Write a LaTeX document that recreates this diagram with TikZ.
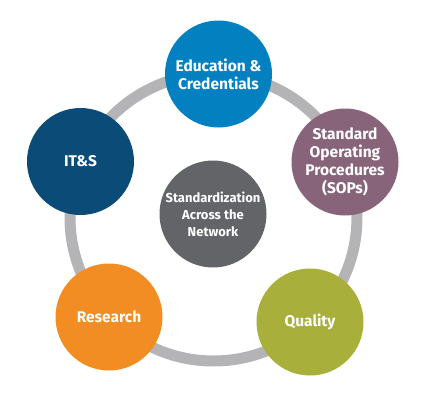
\documentclass[tikz,border=0pt]{standalone}
\usepackage{fontspec}
\setmainfont{Fira Sans}
\usepackage{tikz}

\definecolor{ringgray}{RGB}{180,180,182}
\definecolor{edublue}{RGB}{3,128,192}
\definecolor{itsnavy}{RGB}{11,75,120}
\definecolor{sopmauve}{RGB}{135,100,121}
\definecolor{resorange}{RGB}{241,141,34}
\definecolor{qualolive}{RGB}{168,175,58}
\definecolor{centergray}{RGB}{99,100,104}

\tikzset{
  topic/.style={circle, minimum size=107pt, inner sep=0pt, text=white,
    font=\bfseries\fontsize{15.5}{18}\selectfont, align=center},
  hub/.style={topic, font=\bfseries\fontsize{13}{17}\selectfont}
}

\begin{document}
\begin{tikzpicture}[x=1pt,y=1pt,yscale=-1,xscale=1]
\useasboundingbox (0,0) rectangle (437,415);
% ring behind the circles
\coordinate (mid) at (213.5,217.5);
\draw [ringgray, line width=11pt] (mid) circle [radius=143.5pt];
% topics
\node (edu) [topic, fill=edublue] at (218.5,74) {Education \&\\Credentials};
\node (its) [topic, fill=itsnavy] at (80.5,161.5) {IT\&S};
\node (sop) [topic, fill=sopmauve] at (345,162) {Standard\\Operating\\Procedures\\(SOPs)};
\node (res) [topic, fill=resorange] at (109,317) {Research};
\node (qual) [topic, fill=qualolive] at (310,322) {Quality};
\node (std) [hub, fill=centergray] at (213,214) {Standardization\\Across the\\Network};
\end{tikzpicture}
\end{document}
